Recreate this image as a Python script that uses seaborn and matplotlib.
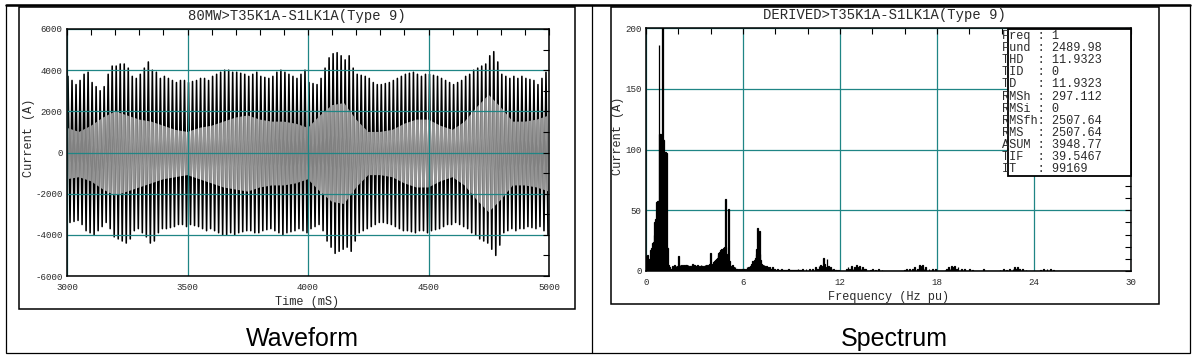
import numpy as np
import pandas as pd
import matplotlib
matplotlib.use("Agg")
import matplotlib.pyplot as plt
import seaborn as sns
from matplotlib.patches import Rectangle
from matplotlib.lines import Line2D
from matplotlib.ticker import FixedLocator, MultipleLocator

# ---------------------------------------------------------------- data
wave_title = "80MW>T35K1A-S1LK1A(Type 9)"
spec_title = "DERIVED>T35K1A-S1LK1A(Type 9)"
wave_xlabel = "Time (mS)"
spec_xlabel = "Frequency (Hz pu)"
ylabel = "Current (A)"
panel_names = ["Waveform", "Spectrum"]

# waveform: one positive and one negative peak per 60 Hz cycle, 3000..5000 ms
cycle_ms = 1000.0 / 60.0
t_start = 3000
pos_peaks = [3700, 3500, 3300, 3500, 3800, 3900, 3400, 3200, 3000, 3200, 3800, 4200,
             4200, 4300, 4300, 4100, 3700, 3600, 3800, 4100, 4400, 4000, 3900, 3600,
             3700, 3600, 3500, 3400, 3500, 3500, 3400, 3450, 3500, 3600, 3600, 3500,
             3700, 3800, 3900, 4000, 4000, 3900, 3900, 3850, 3800, 3700, 3800, 3900,
             3700, 3650, 3600, 3700, 3900, 4000, 3900, 3800, 3700, 3600, 3800, 4000,
             3400, 3350, 3300, 3600, 4100, 4600, 4800, 4850, 4700, 4500, 4700, 4100,
             3800, 3750, 3700, 3600, 3400, 3300, 3300, 3350, 3400, 3500, 3600, 3700,
             3800, 3850, 3900, 3800, 3700, 3800, 3800, 3750, 3700, 3600, 3500, 3400,
             3300, 3400, 3500, 3700, 3800, 4000, 4100, 4200, 4300, 4700, 4900, 4400,
             3800, 3700, 3600, 3700, 3600, 3700, 3600, 3550, 3500, 3300, 3600, 3900]
neg_peaks = [-3400, -3350, -3300, -3500, -3800, -3900, -4000, -3800, -3600, -3400, -3700, -4100,
             -4200, -4300, -4400, -4200, -3800, -3700, -3900, -4100, -4400, -4300, -3900, -3700,
             -3700, -3650, -3600, -3500, -3500, -3600, -3500, -3550, -3600, -3700, -3800, -3700,
             -3800, -3900, -4000, -4000, -3900, -4000, -3900, -3850, -3800, -3800, -3900, -3900,
             -3800, -3750, -3700, -3800, -3900, -4000, -3900, -3850, -3800, -3700, -3800, -3900,
             -3700, -3600, -3500, -3800, -4300, -4600, -4900, -4800, -4700, -4600, -4800, -4300,
             -3900, -3800, -3700, -3600, -3500, -3400, -3400, -3450, -3500, -3600, -3700, -3800,
             -3800, -3850, -3900, -3800, -3800, -3900, -3800, -3750, -3700, -3600, -3500, -3500,
             -3400, -3500, -3600, -3700, -3900, -4000, -4200, -4300, -4400, -4700, -5000, -4500,
             -3900, -3800, -3700, -3800, -3700, -3700, -3600, -3650, -3700, -3600, -3800, -4000]
# inner (grey) band of the dense trace
env_t = [3000, 3050, 3100, 3150, 3200, 3250, 3300, 3350, 3400, 3450, 3500,
         3550, 3600, 3650, 3700, 3750, 3800, 3850, 3900, 3950, 4000,
         4050, 4100, 4150, 4200, 4250, 4300, 4350, 4400, 4450, 4500,
         4550, 4600, 4650, 4700, 4750, 4800, 4850, 4900, 4950, 5000]
env_hi = [1200, 1000, 1300, 1700, 2000, 1800, 1600, 1500, 1300, 1100, 1000,
          1200, 1300, 1500, 1700, 1800, 1600, 1500, 1500, 1400, 1200,
          1800, 2300, 2400, 1600, 1000, 1000, 1100, 1400, 1600, 1600,
          1300, 1100, 1500, 2200, 2800, 2200, 1500, 1500, 1600, 1800]
env_lo = [-1300, -1200, -1400, -1800, -2100, -1900, -1700, -1500, -1300, -1200, -1100,
          -1300, -1500, -1700, -1800, -1900, -1700, -1600, -1600, -1500, -1300,
          -1900, -2400, -2500, -1700, -1100, -1100, -1200, -1500, -1700, -1700,
          -1400, -1200, -1600, -2300, -2900, -2300, -1600, -1600, -1700, -1900]

wave_xticks = [3000, 3500, 4000, 4500, 5000]
wave_xticklabels = ["3000", "3500", "4000", "4500", "5000"]
wave_yticks = [-6000, -4000, -2000, 0, 2000, 4000, 6000]
wave_yticklabels = ["-6000", "-4000", "-2000", "0", "2000", "4000", "6000"]

# spectrum: uniformly sampled segments (start, step 0.05) + sparse high band
spec_step = 0.05
seg_a_start, seg_a = 0.0, [4, 12, 13, 9, 10, 11, 17, 19, 23, 24, 30, 40, 43, 57, 58, 58,
                           186, 113, 113, 110, 2489.98, 109, 108, 98, 98, 97, 20, 19, 5, 3, 2]
seg_b_start, seg_b = 1.55, [2, 1, 4, 3, 5, 3, 4, 2, 4, 12, 3, 5, 4, 5, 3, 5, 5, 4, 5, 5,
                            4, 5, 3, 4, 4, 3, 5, 6, 5, 5, 4, 4, 3, 5, 4, 3, 4, 5, 4, 4,
                            3, 4, 5, 4, 5, 4, 5, 5, 6]
seg_c_start, seg_c = 4.0, [15, 5, 6, 6, 7, 8, 9, 10, 11, 13, 15, 16, 17, 18, 18, 17, 19, 20,
                           59, 20, 14, 10, 51, 8, 5, 3, 4, 5, 3, 2, 3, 2, 2]
seg_d_start, seg_d = 5.65, [2, 1, 2, 2, 1, 2, 2, 1, 2, 2, 1, 2, 3, 2, 3, 3, 4, 5, 6, 8,
                            7, 9, 11, 14, 18, 35, 29, 33, 14, 9, 6, 5, 4, 5, 4, 3, 4, 3, 3, 2,
                            3, 2, 2, 3, 2, 1, 2, 1]
seg_e_start, seg_e = 8.05, [1, 1, 1.5, 1, 1, 1, 1, 1.5, 1, 1, 1, 1, 1, 1, 1, 1.5, 1, 1, 1, 1,
                            1, 1, 1, 1, 1, 1, 1, 1.5, 1, 1, 1]
hf_freq = [9.7, 9.9, 10.1, 10.3, 10.5, 10.6, 10.7, 10.8, 10.9, 11.0, 11.05, 11.1, 11.2, 11.3,
           11.4, 11.5, 11.6, 11.7, 11.8, 11.9,
           12.4, 12.5, 12.6, 12.7, 12.8, 12.9, 13.0, 13.1, 13.2, 13.3, 13.4, 13.5, 13.6,
           13.9, 14.0, 14.2, 14.4, 14.6,
           16.0, 16.1, 16.3, 16.5, 16.6, 16.8, 16.9, 17.0, 17.1, 17.2, 17.3, 17.5, 17.7, 17.9,
           18.5, 18.6, 18.7, 18.8, 18.9, 19.0, 19.1, 19.2, 19.3, 19.5, 19.7, 20.0, 20.2, 20.9,
           21.9, 22.1, 22.3, 22.5, 22.7, 22.8, 22.9, 23.0, 23.1, 23.3, 23.5,
           24.4, 24.6, 24.8, 25.0, 25.2]
hf_amp = [2, 1.5, 2, 1.5, 3, 2, 4, 5, 4, 11, 6, 3, 10, 4,
          3, 2, 1.5, 1, 1, 1,
          2, 3, 2, 4, 2, 3, 5, 3, 4, 2, 3, 2, 2,
          1, 2, 1, 1.5, 1,
          1, 2, 1.5, 2, 3, 2, 5, 4, 5, 2, 3, 2, 2, 1.5,
          1, 2, 3, 2, 4, 3, 4, 2, 3, 2, 1.5, 2, 1, 1.5,
          1, 1.5, 1, 2, 2, 3, 2, 3, 2, 2, 1,
          1, 2, 2, 2, 1]

spec_xticks = [0, 6, 12, 18, 24, 30]
spec_xticklabels = ["0", "6", "12", "18", "24", "30"]
spec_yticks = [0, 50, 100, 150, 200]
spec_yticklabels = ["0", "50", "100", "150", "200"]

stats_keys = ["Freq", "Fund", "THD", "TID", "TD", "RMSh", "RMSi", "RMSfh",
              "RMS", "ASUM", "TIF", "IT"]
stats_vals = ["1", "2489.98", "11.9323", "0", "11.9323", "297.112", "0",
              "2507.64", "2507.64", "3948.77", "39.5467", "99169"]

# ---------------------------------------------------------------- tables
wave_t, wave_v = [], []
for i, (p, n) in enumerate(zip(pos_peaks, neg_peaks)):
    base = t_start + cycle_ms * i
    wave_t += [base + cycle_ms / 4, base + 3 * cycle_ms / 4]
    wave_v += [p, n]
wave_df = pd.DataFrame({"t": wave_t, "i": wave_v})

freqs, amps = [], []
for start, seg in [(seg_a_start, seg_a), (seg_b_start, seg_b), (seg_c_start, seg_c),
                   (seg_d_start, seg_d), (seg_e_start, seg_e)]:
    freqs += [round(start + spec_step * k, 3) for k in range(len(seg))]
    amps += list(seg)
freqs += hf_freq
amps += hf_amp
spec_df = pd.DataFrame({"f": freqs, "a": amps})

# ---------------------------------------------------------------- style
sns.set_style("white")
plt.rcParams["font.family"] = ["Liberation Mono", "DejaVu Sans Mono"]
plt.rcParams["axes.unicode_minus"] = False

W, H = 1197, 360
fig = plt.figure(figsize=(W / 100, H / 100), dpi=100)
fig.patch.set_facecolor("white")


def fx(x):
    return x / W


def fy(y):
    return 1 - y / H


GRID = "#1f8585"
TXT = "#2a2a2a"

ax1 = fig.add_axes([fx(67), fy(276), (549 - 67) / W, (276 - 29) / H])
ax2 = fig.add_axes([fx(646), fy(271), (1131 - 646) / W, (271 - 28) / H])

# ---- waveform
sns.lineplot(data=wave_df, x="t", y="i", sort=False, estimator=None,
             color="black", lw=1.15, ax=ax1)
band = ax1.fill_between(env_t, env_lo, env_hi, facecolor="none", edgecolor="none")
sns.lineplot(data=wave_df, x="t", y="i", sort=False, estimator=None,
             color="#939393", lw=1.2, ax=ax1)
ax1.lines[-1].set_clip_path(band.get_paths()[0], ax1.transData)
ax1.set_xlim(3000, 5000)
ax1.set_ylim(-6000, 6000)
ax1.xaxis.set_major_locator(FixedLocator(wave_xticks))
ax1.xaxis.set_minor_locator(MultipleLocator(100))
ax1.yaxis.set_major_locator(FixedLocator(wave_yticks))
ax1.yaxis.set_minor_locator(MultipleLocator(1000))
ax1.set_xticklabels(wave_xticklabels)
ax1.set_yticklabels(wave_yticklabels)
ax1.set_axisbelow(False)

# ---- spectrum
sns.histplot(data=spec_df, x="f", weights="a", binwidth=spec_step,
             binrange=(-spec_step / 2, 30 - spec_step / 2), color="black",
             edgecolor="black", linewidth=0.9, alpha=1, ax=ax2)
ax2.set_xlim(0, 30)
ax2.set_ylim(0, 200)
ax2.xaxis.set_major_locator(FixedLocator(spec_xticks))
ax2.xaxis.set_minor_locator(MultipleLocator(2))
ax2.yaxis.set_major_locator(FixedLocator(spec_yticks))
ax2.yaxis.set_minor_locator(MultipleLocator(10))
ax2.set_xticklabels(spec_xticklabels)
ax2.set_yticklabels(spec_yticklabels)
ax2.set_axisbelow(True)

for ax in (ax1, ax2):
    ax.set_xlabel("")
    ax.set_ylabel("")
    ax.grid(which="major", color=GRID, lw=0.9)
    ax.grid(which="minor", visible=False)
    ax.tick_params(which="both", direction="in", top=True, right=True,
                   length=4, width=0.8, color="black")
    ax.tick_params(axis="x", which="major", pad=5, labelsize=6.6, labelcolor=TXT)
    ax.tick_params(axis="y", which="major", pad=3, labelsize=6.6, labelcolor=TXT)
    for s in ax.spines.values():
        s.set_visible(True)
        s.set_color("black")
        s.set_linewidth(1.1)
        s.set_zorder(5)

# ---- stats box
fig.add_artist(Rectangle((fx(1008), fy(176)), (1131 - 1008) / W, (176 - 29) / H,
                         transform=fig.transFigure, facecolor="white",
                         edgecolor="black", lw=1.3, zorder=5))
for k, (key, val) in enumerate(zip(stats_keys, stats_vals)):
    fig.text(fx(1002), fy(36 + 12.1 * k), f"{key:<5}: {val}", ha="left", va="center",
             fontsize=8.6, color=TXT, zorder=6)

# ---- titles / labels
fig.text(fx(297), fy(16), wave_title, ha="center", va="center", fontsize=10, color=TXT)
fig.text(fx(884), fy(15), spec_title, ha="center", va="center", fontsize=10, color=TXT)
fig.text(fx(307), fy(302), wave_xlabel, ha="center", va="center", fontsize=8.6, color=TXT)
fig.text(fx(889), fy(297), spec_xlabel, ha="center", va="center", fontsize=8.6, color=TXT)
fig.text(fx(29), fy(138), ylabel, ha="center", va="center", rotation=90,
         fontsize=8.6, color=TXT)
fig.text(fx(618), fy(136), ylabel, ha="center", va="center", rotation=90,
         fontsize=8.6, color=TXT)
fig.text(fx(302), fy(339), panel_names[0], ha="center", va="center", fontsize=18,
         family=["Liberation Sans", "DejaVu Sans"], color="black")
fig.text(fx(894), fy(339), panel_names[1], ha="center", va="center", fontsize=18,
         family=["Liberation Sans", "DejaVu Sans"], color="black")

# ---- frames
fig.add_artist(Rectangle((fx(19), fy(309)), (575 - 19) / W, (309 - 7) / H,
                         transform=fig.transFigure, fill=False, ec="black", lw=1.1))
fig.add_artist(Rectangle((fx(611), fy(304)), (1159 - 611) / W, (304 - 7) / H,
                         transform=fig.transFigure, fill=False, ec="black", lw=1.1))
fig.add_artist(Rectangle((fx(6), fy(353)), (1190 - 6) / W, (353 - 5) / H,
                         transform=fig.transFigure, fill=False, ec="black", lw=0.9))
fig.add_artist(Line2D([fx(6), fx(1190)], [fy(5), fy(5)], transform=fig.transFigure,
                      color="black", lw=1.8))
fig.add_artist(Line2D([fx(592), fx(592)], [fy(5), fy(353)], transform=fig.transFigure,
                      color="black", lw=0.9))

fig.savefig("out.png", dpi=100, facecolor="white")
